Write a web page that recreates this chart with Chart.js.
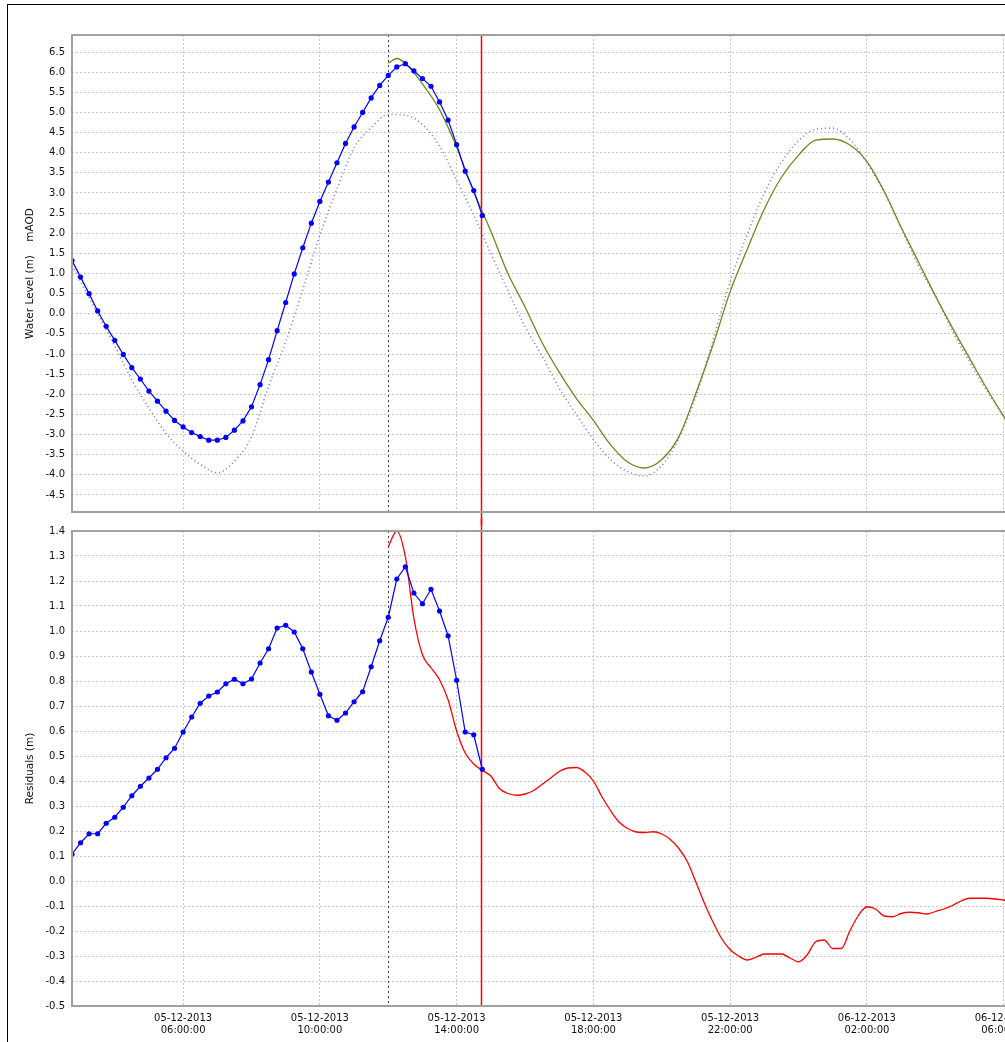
<!DOCTYPE html>
<html>
<head>
<meta charset="utf-8">
<script src="https://cdn.jsdelivr.net/npm/chart.js@4.4.1/dist/chart.umd.min.js"></script>
<style>
  html, body { margin: 0; padding: 0; background: #fff; overflow: hidden; }
  #frame { position: absolute; left: 7px; top: 4px; width: 1100px; height: 1100px;
           border-left: 1px solid #000; border-top: 1px solid #000; }
  canvas { position: absolute; left: 0; }
  #levelChart { top: 0; }
  #residChart { top: 518px; }
</style>
</head>
<body>
<div id="frame"></div>
<canvas id="levelChart" width="1060" height="525"></canvas>
<canvas id="residChart" width="1060" height="524"></canvas>
<script>
// x values are hours counted from 05-12-2013 00:00
const timeTicks = [6, 10, 14, 18, 22, 26, 30]
const levelTicks = [-4.5, -4, -3.5, -3, -2.5, -2, -1.5, -1, -0.5, 0, 0.5, 1, 1.5, 2, 2.5, 3, 3.5, 4, 4.5, 5, 5.5, 6, 6.5]
const residTicks = [-0.5, -0.4, -0.3, -0.2, -0.1, 0, 0.1, 0.2, 0.3, 0.4, 0.5, 0.6, 0.7, 0.8, 0.9, 1.0, 1.1, 1.2, 1.3, 1.4]

// observed, every 15 minutes from 02:45
const obsStart = 2.75
const obsStep = 0.25
const obsLevel = [1.32, 0.91, 0.50, 0.07, -0.31, -0.66, -1.01, -1.34, -1.62, -1.92, -2.17, -2.42, -2.65,
  -2.81, -2.95, -3.05, -3.14, -3.14, -3.07, -2.89, -2.66, -2.31, -1.76, -1.14, -0.42, 0.28, 0.99, 1.64,
  2.25, 2.79, 3.27, 3.75, 4.23, 4.64, 5.00, 5.36, 5.67, 5.92, 6.13, 6.21, 6.03, 5.84, 5.65, 5.26, 4.81,
  4.20, 3.54, 3.06, 2.44]
const obsResid = [0.107, 0.153, 0.189, 0.189, 0.231, 0.255, 0.295, 0.341, 0.379, 0.412, 0.447, 0.493,
  0.531, 0.596, 0.656, 0.711, 0.740, 0.756, 0.789, 0.807, 0.789, 0.808, 0.872, 0.929, 1.012, 1.023,
  0.996, 0.929, 0.836, 0.747, 0.661, 0.643, 0.672, 0.717, 0.757, 0.857, 0.961, 1.055, 1.208, 1.257,
  1.152, 1.109, 1.167, 1.080, 0.981, 0.803, 0.596, 0.585, 0.447]

// astronomical tide (dotted)
const tideHours = [2.75, 3, 3.5, 4, 4.5, 5, 5.5, 6, 6.5, 7, 7.5, 8, 8.5, 9, 9.5, 10, 10.5, 11, 11.5, 12,
  12.5, 13, 13.5, 14, 14.5, 15, 15.5, 16, 16.5, 17, 17.5, 18, 18.5, 19, 19.5, 20, 20.5, 21, 21.5, 22,
  22.5, 23, 23.5, 24, 24.5, 25, 25.5, 26, 26.5, 27, 27.5, 28, 28.5, 29, 29.5, 30, 30.5, 31]
const tideLevel = [1.2, 0.8, 0.0, -0.8, -1.64, -2.34, -2.97, -3.41, -3.74, -3.95, -3.66, -3.05, -1.8,
  -0.7, 0.6, 1.95, 3.1, 4.12, 4.62, 4.95, 4.93, 4.7, 4.16, 3.32, 2.45, 1.5, 0.57, -0.32, -1.05, -1.85,
  -2.5, -3.12, -3.62, -3.92, -4.03, -3.77, -3.1, -2.05, -0.65, 0.8, 1.98, 3.0, 3.76, 4.3, 4.58, 4.61,
  4.33, 3.75, 3.02, 2.13, 1.2, 0.45, -0.42, -1.2, -1.9, -2.55, -3.2, -3.8]

// forecast level (green)
const fcHours = [12, 12.25, 12.5, 13, 13.5, 14, 14.5, 15, 15.5, 16, 16.5, 17, 17.5, 18, 18.5, 19, 19.5,
  20, 20.5, 21, 21.5, 22, 22.5, 23, 23.5, 24, 24.5, 25, 25.5, 26, 26.5, 27, 27.5, 28, 28.5, 29, 29.5,
  30, 30.5, 31]
const fcLevel = [6.22, 6.34, 6.22, 5.71, 5.07, 4.14, 3.03, 2.05, 1.0, 0.17, -0.72, -1.45, -2.1, -2.65,
  -3.25, -3.68, -3.83, -3.62, -3.05, -1.97, -0.77, 0.55, 1.6, 2.6, 3.39, 3.94, 4.31, 4.34, 4.19, 3.78,
  3.05, 2.15, 1.3, 0.45, -0.35, -1.1, -1.85, -2.55, -3.2, -3.8]

// forecast residual (red), every 15 minutes from 12:00
const fcResidStart = 12
const fcResid = [1.337, 1.40, 1.297, 1.05, 0.905, 0.853, 0.805, 0.725, 0.60, 0.512, 0.468, 0.443,
  0.42, 0.37, 0.35, 0.343, 0.348, 0.362, 0.387, 0.412, 0.438, 0.452, 0.454, 0.436,
  0.40, 0.337, 0.282, 0.236, 0.21, 0.196, 0.194, 0.197, 0.188, 0.166, 0.13, 0.077,
  -0.005, -0.09, -0.165, -0.23, -0.275, -0.30, -0.316, -0.305, -0.292, -0.292, -0.292, -0.308,
  -0.323, -0.296, -0.243, -0.236, -0.27, -0.27, -0.20, -0.138, -0.103, -0.112, -0.14, -0.143,
  -0.13, -0.125, -0.127, -0.132, -0.122, -0.112, -0.098, -0.08, -0.069, -0.069, -0.069, -0.072,
  -0.076, -0.08, -0.08]

const forecastTime = 12      // dotted black line
const lastObsTime = 14.72    // red line

const font = { family: 'DejaVu Sans', size: 10 }
const titleFont = { family: 'DejaVu Sans', size: 10.5 }
const gridColor = '#c8c8c8'
const textColor = '#111'

function pad(n) { return String(n).padStart(2, '0') }
function timeLabel(h) {
  const day = 5 + Math.floor(h / 24)
  const hh = h % 24
  return [pad(day) + '-12-2013', pad(Math.floor(hh)) + ':' + pad(Math.round((hh % 1) * 60)) + ':00']
}

const markers = {
  id: 'markers',
  beforeDatasetsDraw(chart, args, opts) {
    const { ctx, chartArea: a, scales: { x } } = chart
    ctx.save()
    let px = Math.round(x.getPixelForValue(forecastTime)) + 0.5
    ctx.strokeStyle = '#404040'
    ctx.lineWidth = 1
    ctx.setLineDash([2, 3])
    ctx.beginPath(); ctx.moveTo(px, a.top); ctx.lineTo(px, a.bottom); ctx.stroke()

    px = Math.round(x.getPixelForValue(lastObsTime)) + 0.5
    ctx.setLineDash([])
    ctx.strokeStyle = '#ff0000'
    ctx.lineWidth = 1.5
    ctx.beginPath()
    ctx.moveTo(px, opts.toTop ? 0 : a.top)
    ctx.lineTo(px, opts.toBottom ? chart.height : a.bottom)
    ctx.stroke()
    ctx.restore()
  },
  afterDraw(chart) {
    const { ctx, chartArea: a } = chart
    ctx.save()
    ctx.strokeStyle = '#a0a0a0'
    ctx.lineWidth = 2
    ctx.beginPath()
    ctx.moveTo(a.right + 10, a.top); ctx.lineTo(a.left, a.top)
    ctx.lineTo(a.left, a.bottom); ctx.lineTo(a.right + 10, a.bottom)
    ctx.stroke()
    ctx.restore()
  }
}

function yAxis(ticks, min, max, title) {
  return {
    min, max,
    afterFit(s) { s.width = 72 },
    afterBuildTicks(s) { s.ticks = ticks.map(v => ({ value: v })) },
    grid: { color: gridColor, drawTicks: false },
    border: { display: false, dash: [2, 2] },
    ticks: { padding: 7, color: textColor, font, callback: v => v.toFixed(1) },
    title: { display: true, text: title, color: textColor, font: titleFont, padding: { top: 24 } }
  }
}

function xAxis(height, showLabels) {
  return {
    type: 'linear', min: 2.75, max: 31.53,
    afterFit(s) { s.height = height },
    afterBuildTicks(s) { s.ticks = timeTicks.map(v => ({ value: v })) },
    grid: { color: gridColor, drawTicks: false },
    border: { display: false, dash: [2, 2] },
    ticks: { display: showLabels, padding: 6, color: textColor, font, maxRotation: 0,
             autoSkip: false, callback: v => timeLabel(v) }
  }
}

const base = {
  responsive: false, animation: false, devicePixelRatio: 1, events: [],
  elements: { line: { tension: 0 } }
}

new Chart(document.getElementById('levelChart'), {
  type: 'line',
  plugins: [markers],
  data: {
    datasets: [
      { data: obsLevel.map((v, i) => ({ x: obsStart + i * obsStep, y: v })),
        borderColor: '#0000ff', backgroundColor: '#0000ff', borderWidth: 1.2,
        pointRadius: 2.6, pointBorderWidth: 0 },
      { data: fcHours.map((h, i) => ({ x: h, y: fcLevel[i] })),
        borderColor: '#6b8a1e', borderWidth: 1.3, pointRadius: 0, cubicInterpolationMode: 'monotone' },
      { data: tideHours.map((h, i) => ({ x: h, y: tideLevel[i] })),
        borderColor: 'rgba(95,105,155,0.85)', borderWidth: 1.6, borderDash: [1, 3],
        pointRadius: 0, cubicInterpolationMode: 'monotone' }
    ]
  },
  options: {
    ...base,
    layout: { padding: { top: 35, left: 0, right: 0, bottom: 0 } },
    plugins: { legend: { display: false }, tooltip: { enabled: false }, markers: { toBottom: true } },
    scales: {
      x: xAxis(9, false),
      y: yAxis(levelTicks, -4.923, 6.923, 'Water Level (m)    mAOD')
    }
  }
})

new Chart(document.getElementById('residChart'), {
  type: 'line',
  plugins: [markers],
  data: {
    datasets: [
      { data: obsResid.map((v, i) => ({ x: obsStart + i * obsStep, y: v })),
        borderColor: '#0000ff', backgroundColor: '#0000ff', borderWidth: 1.2,
        pointRadius: 2.6, pointBorderWidth: 0 },
      { data: fcResid.map((v, i) => ({ x: fcResidStart + i * 0.25, y: v })),
        borderColor: '#ff0000', borderWidth: 1.3, pointRadius: 0, cubicInterpolationMode: 'monotone' }
    ]
  },
  options: {
    ...base,
    layout: { padding: { top: 11, left: 0, right: 0, bottom: 0 } },
    plugins: { legend: { display: false }, tooltip: { enabled: false }, markers: { toTop: true } },
    scales: {
      x: xAxis(36, true),
      y: yAxis(residTicks, -0.5, 1.4, 'Residuals (m)')
    }
  }
})
</script>
</body>
</html>
